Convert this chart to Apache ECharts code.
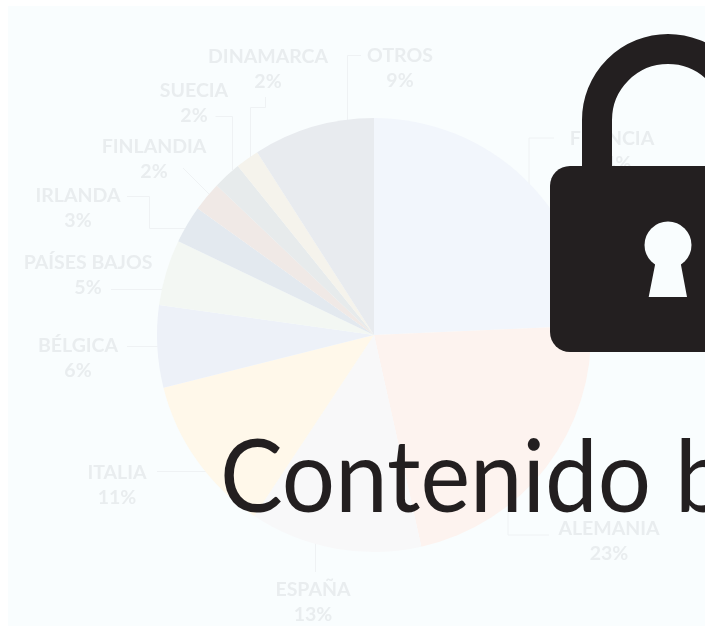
<!DOCTYPE html>
<html>
<head>
<meta charset="utf-8">
<style>
  html, body { margin: 0; padding: 0; background: #fff; overflow: hidden; }
  #chart { width: 705px; height: 626px; }
</style>
<script src="https://cdn.jsdelivr.net/npm/echarts@6/dist/echarts.min.js"></script>
</head>
<body>
<div id="chart"></div>
<script>
// datos
const countries = ['FRANCIA', 'ALEMANIA', 'ESPAÑA', 'ITALIA', 'BÉLGICA', 'PAÍSES BAJOS', 'IRLANDA', 'FINLANDIA', 'SUECIA', 'DINAMARCA', 'OTROS']
const percentLabels = ['24%', '23%', '13%', '11%', '6%', '5%', '3%', '2%', '2%', '2%', '9%']
// los sectores dibujados no son exactamente los porcentajes rotulados
const sliceShares = [24.3, 22.2, 12.8, 11.8, 6.1, 4.9, 2.8, 2.2, 2.1, 1.75, 9.05]
const sliceColors = ['#f2f6fc', '#fdf3ef', '#f8f8f9', '#fff8ea', '#edf1f8', '#f3f7f3', '#e3e9ef', '#f0e9e6', '#e7ebec', '#f5f3ec', '#e8ebef']

const BG = '#f9fdfe'
const DARK = '#231f20'
const FAINT = '#e9edef'

// centro de cada rotulo
const labelCenters = [[612, 151], [609, 541], [313, 602], [117, 485.5], [78, 358], [88, 275], [78, 208.5], [154, 159], [194, 103], [268, 69], [400, 68]]

// lineas guia
const leaderLines = [
  [[554, 138], [529, 138], [529, 185]],
  [[508, 512], [508, 535], [549, 535]],
  [[315.5, 543], [315.5, 572]],
  [[157, 471.5], [206, 471.5]],
  [[127, 346.5], [158, 346.5]],
  [[111, 289.5], [162, 289.5]],
  [[127, 196.5], [149.5, 196.5], [149.5, 228.5], [185, 228.5]],
  [[183, 168], [209, 194]],
  [[215.5, 116.5], [232.5, 116.5], [232.5, 170]],
  [[265.5, 97], [265.5, 107.5], [250.5, 107.5], [250.5, 157]],
  [[361, 55.5], [347.5, 55.5], [347.5, 120]]
]

const chart = echarts.init(document.getElementById('chart'), null, { renderer: 'canvas' })

const option = {
  animation: false,
  backgroundColor: '#fff',
  graphic: {
    elements: [
      { type: 'rect', z: -10, silent: true, shape: { x: 8, y: 6, width: 697, height: 620 }, style: { fill: BG } },
      ...leaderLines.map(points => ({
        type: 'polyline', z: 1, silent: true, shape: { points }, style: { stroke: '#eff2f4', lineWidth: 1, fill: null }
      })),
      // candado
      { type: 'arc', z: 100, silent: true, shape: { cx: 668, cy: 120, r: 71, startAngle: Math.PI, endAngle: 2 * Math.PI }, style: { stroke: DARK, lineWidth: 30, fill: null } },
      { type: 'rect', z: 100, silent: true, shape: { x: 582, y: 120, width: 30, height: 60 }, style: { fill: DARK } },
      { type: 'rect', z: 100, silent: true, shape: { x: 724, y: 120, width: 30, height: 60 }, style: { fill: DARK } },
      { type: 'rect', z: 100, silent: true, shape: { x: 550, y: 166, width: 236, height: 186, r: 20 }, style: { fill: DARK } },
      { type: 'circle', z: 101, silent: true, shape: { cx: 668, cy: 245, r: 23.5 }, style: { fill: BG } },
      { type: 'polygon', z: 101, silent: true, shape: { points: [[655, 250], [681, 250], [681, 265], [687, 297], [648.7, 297], [655, 265]] }, style: { fill: BG } },
      {
        type: 'text', z: 102, silent: true, x: 220, y: 430, scaleX: 0.94,
        style: { text: 'Contenido b', fill: DARK, font: '400 100px Lato, sans-serif' }
      }
    ]
  },
  series: [
    {
      type: 'pie',
      z: 2,
      center: [374, 335],
      radius: [0, 217],
      startAngle: 90,
      clockwise: true,
      silent: true,
      avoidLabelOverlap: false,
      data: countries.map((name, i) => ({
        name,
        value: sliceShares[i],
        itemStyle: { color: sliceColors[i] }
      })),
      label: {
        show: true,
        position: 'outside',
        color: FAINT,
        fontFamily: 'Lato, sans-serif',
        fontWeight: 700,
        fontSize: 19.5,
        lineHeight: 25,
        align: 'center',
        formatter: p => `${p.name}\n${percentLabels[p.dataIndex]}`
      },
      labelLine: { show: false },
      labelLayout: params => ({
        x: labelCenters[params.dataIndex][0],
        y: labelCenters[params.dataIndex][1],
        align: 'center',
        verticalAlign: 'middle'
      })
    }
  ]
}

chart.setOption(option)
</script>
</body>
</html>
